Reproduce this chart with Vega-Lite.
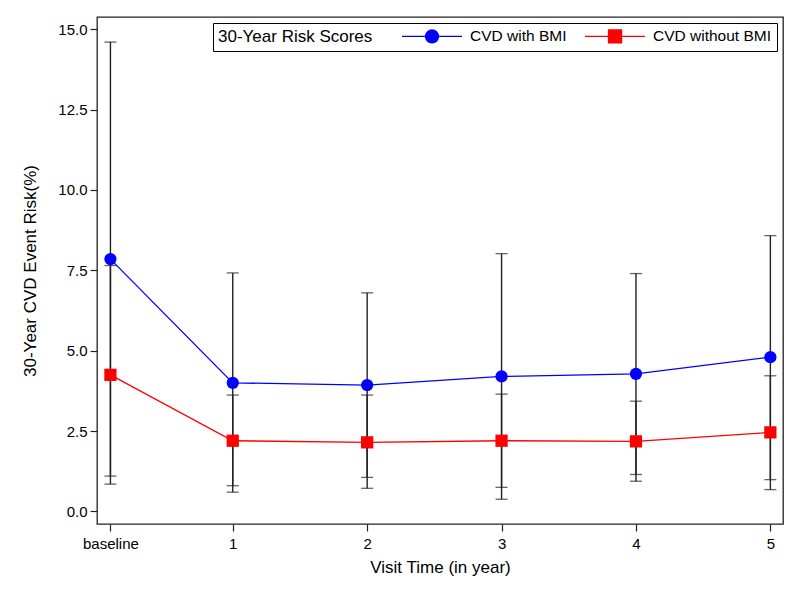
{
  "$schema": "https://vega.github.io/schema/vega-lite/v6.json",
  "width": 686,
  "height": 507,
  "autosize": "none",
  "padding": {"left": 97, "top": 17, "right": 17, "bottom": 76},
  "background": "white",
  "data": {
    "values": [
      {"t": 0.09, "series": "CVD with BMI", "value": 7.85, "lo": 1.1, "hi": 14.6},
      {"t": 1, "series": "CVD with BMI", "value": 4.0, "lo": 0.8, "hi": 7.42},
      {"t": 2, "series": "CVD with BMI", "value": 3.93, "lo": 1.06, "hi": 6.8},
      {"t": 3, "series": "CVD with BMI", "value": 4.2, "lo": 0.75, "hi": 8.02},
      {"t": 4, "series": "CVD with BMI", "value": 4.28, "lo": 1.15, "hi": 7.4},
      {"t": 5, "series": "CVD with BMI", "value": 4.8, "lo": 0.99, "hi": 8.58},
      {"t": 0.09, "series": "CVD without BMI", "value": 4.25, "lo": 0.85, "hi": 7.65},
      {"t": 1, "series": "CVD without BMI", "value": 2.2, "lo": 0.6, "hi": 3.62},
      {"t": 2, "series": "CVD without BMI", "value": 2.15, "lo": 0.72, "hi": 3.62},
      {"t": 3, "series": "CVD without BMI", "value": 2.2, "lo": 0.38, "hi": 3.65},
      {"t": 4, "series": "CVD without BMI", "value": 2.18, "lo": 0.94, "hi": 3.43},
      {"t": 5, "series": "CVD without BMI", "value": 2.46, "lo": 0.68, "hi": 4.22}
    ]
  },
  "encoding": {
    "x": {
      "field": "t",
      "type": "quantitative",
      "scale": {"domain": [-0.01, 5.094], "nice": false, "zero": false},
      "axis": {
        "title": "Visit Time (in year)",
        "values": [0.09, 1, 2, 3, 4, 5],
        "labelExpr": "datum.value < 0.5 ? 'baseline' : format(datum.value, 'd')",
        "titlePadding": 8,
        "labelPadding": 5
      }
    }
  },
  "layer": [
    {
      "mark": {"type": "errorbar", "color": "#222222", "ticks": {"size": 12, "thickness": 1.3}, "rule": {"strokeWidth": 1.4}},
      "encoding": {
        "y": {
          "field": "lo",
          "type": "quantitative",
          "scale": {"domain": [-0.39, 15.38], "nice": false, "zero": false},
          "axis": {
            "title": "30-Year CVD Event Risk(%)",
            "values": [0, 2.5, 5, 7.5, 10, 12.5, 15],
            "format": ".1f",
            "labelPadding": 3,
            "titlePadding": 18
          }
        },
        "y2": {"field": "hi"},
        "detail": {"field": "series"}
      }
    },
    {
      "mark": {"type": "line", "strokeWidth": 1.3},
      "encoding": {
        "y": {"field": "value", "type": "quantitative"},
        "color": {
          "field": "series",
          "type": "nominal",
          "scale": {"domain": ["CVD with BMI", "CVD without BMI"], "range": ["#0000ff", "#ff0000"]},
          "legend": {
            "title": "30-Year Risk Scores",
            "orient": "top-right",
            "offset": 6,
            "direction": "horizontal",
            "titleOrient": "left",
            "strokeColor": "black",
            "fillColor": "white",
            "padding": 5,
            "titleFontSize": 17,
            "titleFontWeight": "normal",
            "titleColor": "black",
            "titleFont": "Liberation Sans",
            "titlePadding": 28,
            "labelFontSize": 15.5,
            "labelFont": "Liberation Sans",
            "labelColor": "black",
            "labelOffset": 53,
            "columnPadding": 15,
            "symbolSize": 196,
            "symbolStrokeWidth": 1,
            "encode": {
              "symbols": {
                "update": {
                  "shape": {"signal": "datum.value === 'CVD with BMI' ? 'M-1,0H2.36M4.22,0H7.57M2.36,0A0.93,0.93 0 1,1 4.22,0A0.93,0.93 0 1,1 2.36,0Z' : 'M-1,0H2.36M4.22,0H7.57M2.36,-0.93H4.22V0.93H2.36Z'"},
                  "fill": {"signal": "datum.value === 'CVD with BMI' ? '#0000ff' : '#ff0000'"},
                  "stroke": {"signal": "datum.value === 'CVD with BMI' ? '#0000ff' : '#ff0000'"},
                  "strokeWidth": {"value": 1.3},
                  "size": {"value": 196},
                  "opacity": {"value": 1},
                  "fillOpacity": {"value": 1}
                }
              }
            }
          }
        }
      }
    },
    {
      "mark": {"type": "point", "filled": true, "opacity": 1},
      "encoding": {
        "y": {"field": "value", "type": "quantitative"},
        "color": {"field": "series", "type": "nominal"},
        "shape": {
          "field": "series",
          "type": "nominal",
          "scale": {"domain": ["CVD with BMI", "CVD without BMI"], "range": ["circle", "square"]},
          "legend": null
        },
        "size": {"value": 150}
      }
    }
  ],
  "resolve": {"legend": {"shape": "independent"}},
  "config": {
    "font": "Liberation Sans",
    "view": {"stroke": "#222222", "strokeWidth": 1.3},
    "axis": {
      "grid": false,
      "domain": false,
      "tickColor": "#222222",
      "tickSize": 7,
      "tickWidth": 1.2,
      "labelFont": "Liberation Sans",
      "labelFontSize": 15,
      "labelColor": "black",
      "titleFont": "Liberation Sans",
      "titleFontSize": 17,
      "titleFontWeight": "normal",
      "titleColor": "black"
    }
  }
}
